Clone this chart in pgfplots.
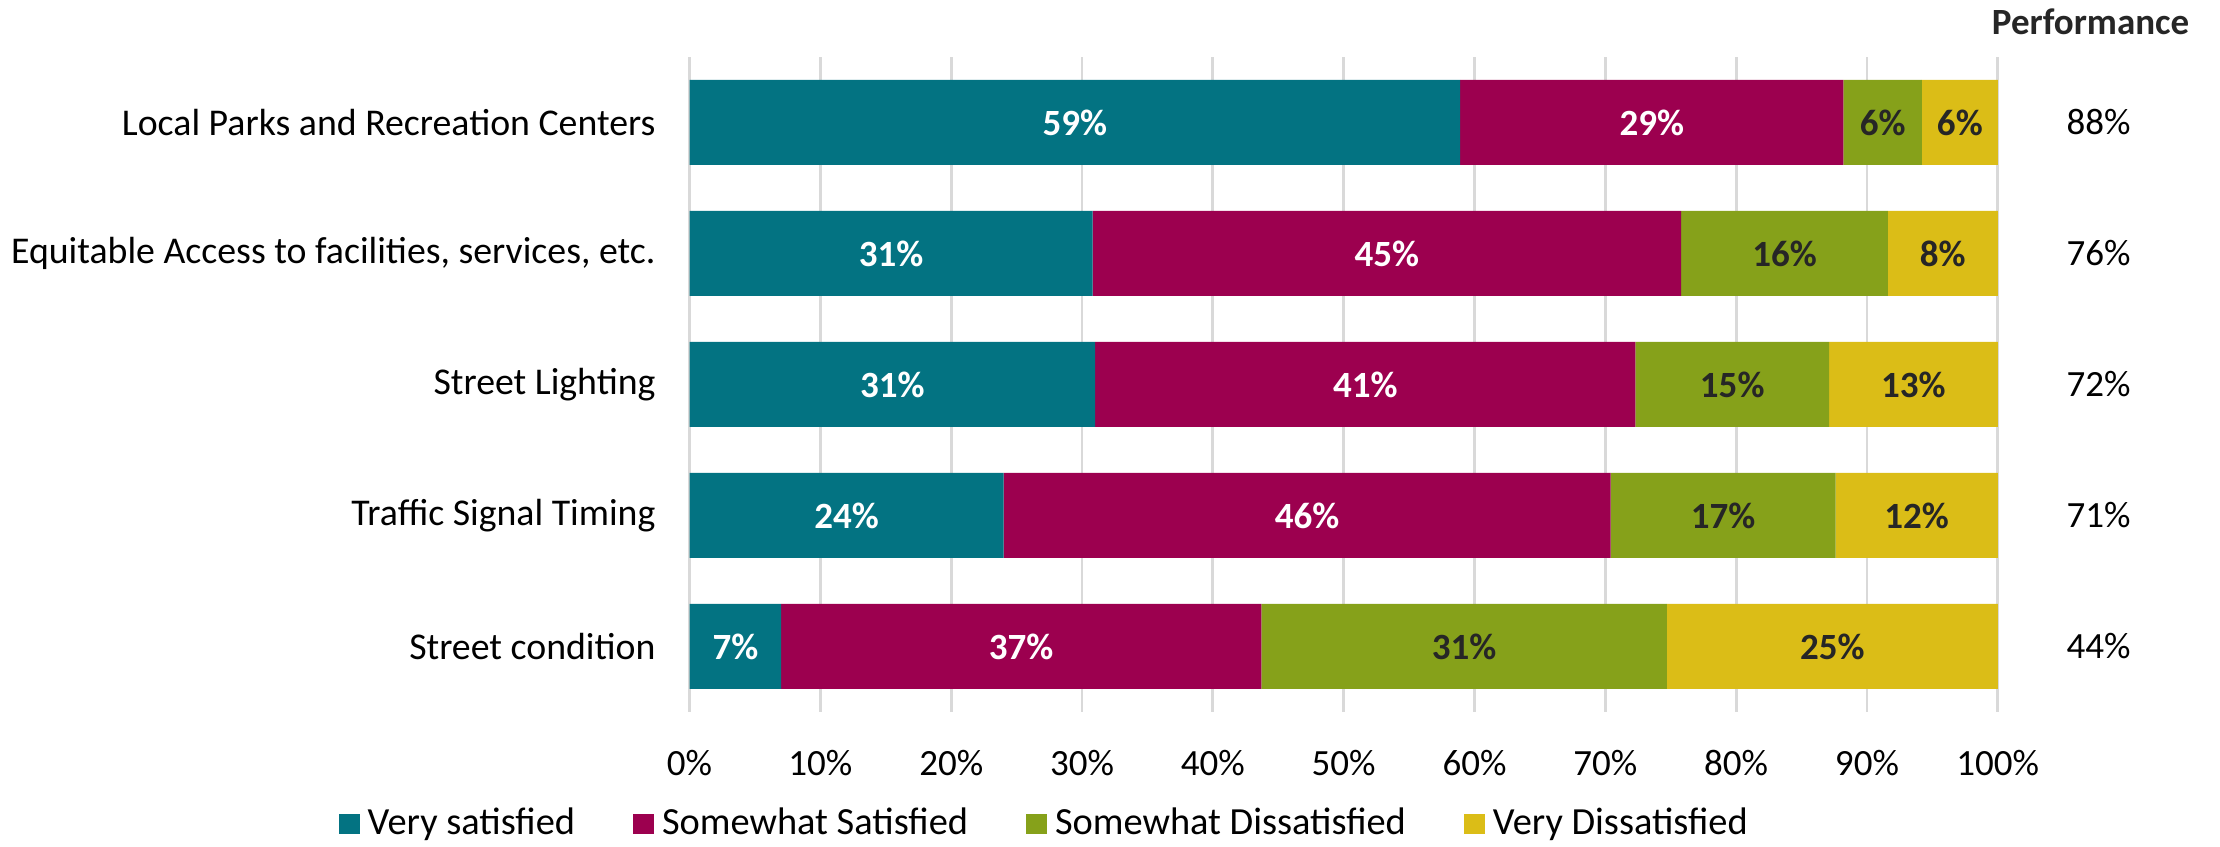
\documentclass[border=0pt]{standalone}
\usepackage{pgfplots}
\usepackage{pgfplotstable}
\pgfplotsset{compat=1.18}
\usepackage{fontspec}
\setmainfont{Carlito}
\definecolor{cA}{HTML}{037382}
\definecolor{cB}{HTML}{9C004F}
\definecolor{cC}{HTML}{86A11A}
\definecolor{cD}{HTML}{DBBD17}
\definecolor{txt}{HTML}{262626}
\pgfplotstableread{
y vs ss sd vd perf
4 58.9 29.3 6.0 5.8 88
3 30.8 45.0 15.8 8.4 76
2 31.0 41.3 14.8 12.9 72
1 24.0 46.4 17.2 12.4 71
0 7.0 36.7 31.0 25.3 44
}\data
\begin{document}
\begin{tikzpicture}[font=\fontsize{9.25}{11}\selectfont]
\useasboundingbox (-172.4pt,-33.75pt) rectangle (382.6pt,178pt);
\begin{axis}[
  xbar stacked,
  scale only axis,
  width=327.05pt, height=163.75pt,
  xmin=0, xmax=100, ymin=-0.5, ymax=4.5,
  bar width=21.25pt,
  ytick={0,1,2,3,4},
  yticklabels={{Street condition},{Traffic Signal Timing},{Street Lighting},{Equitable Access to facilities, services, etc.},{Local Parks and Recreation Centers}},
  xtick={0,10,...,100},
  xticklabel={\pgfmathprintnumber{\tick}\%},
  /pgf/number format/assume math mode=true,
  xmajorgrids,
  grid style={draw=black!15, line width=0.7pt},
  axis line style={draw=none},
  major tick length=0pt,
  tick style={draw=none},
  yticklabel style={xshift=-5pt, text=black, font=\fontsize{9.45}{11}\selectfont},
  xticklabel style={yshift=-6pt, text=black},
  clip=false,
  visualization depends on=rawx\as\rawx,
  nodes near coords={\pgfmathprintnumber[fixed,precision=0]{\rawx}\%},
  every node near coord/.append style={anchor=center, font=\fontsize{9.25}{11}\selectfont\bfseries},
  legend columns=4,
  legend style={draw=none, at={(-0.278,-0.171)}, anchor=west, font=\fontsize{9.6}{11}\selectfont,
    /tikz/every even column/.append style={column sep=12.5pt}},
  legend image code/.code={\fill[#1] (0pt,-2.6pt) rectangle (5.25pt,2.6pt);},
]
\addplot[fill=cA, draw=none, every node near coord/.append style={text=white}] table[x=vs, y=y] {\data};
\addlegendentry{Very satisfied}
\addplot[fill=cB, draw=none, every node near coord/.append style={text=white}] table[x=ss, y=y] {\data};
\addlegendentry{Somewhat Satisfied}
\addplot[fill=cC, draw=none, every node near coord/.append style={text=txt}] table[x=sd, y=y] {\data};
\addlegendentry{Somewhat Dissatisfied}
\addplot[fill=cD, draw=none, every node near coord/.append style={text=txt}] table[x=vd, y=y] {\data};
\addlegendentry{Very Dissatisfied}
\node[text=txt, font=\fontsize{9.25}{11}\selectfont\bfseries] at (axis cs:107.1,4.767) {Performance};
\node at (axis cs:107.7,4) {88\%};
\node at (axis cs:107.7,3) {76\%};
\node at (axis cs:107.7,2) {72\%};
\node at (axis cs:107.7,1) {71\%};
\node at (axis cs:107.7,0) {44\%};
\end{axis}
\end{tikzpicture}
\end{document}
